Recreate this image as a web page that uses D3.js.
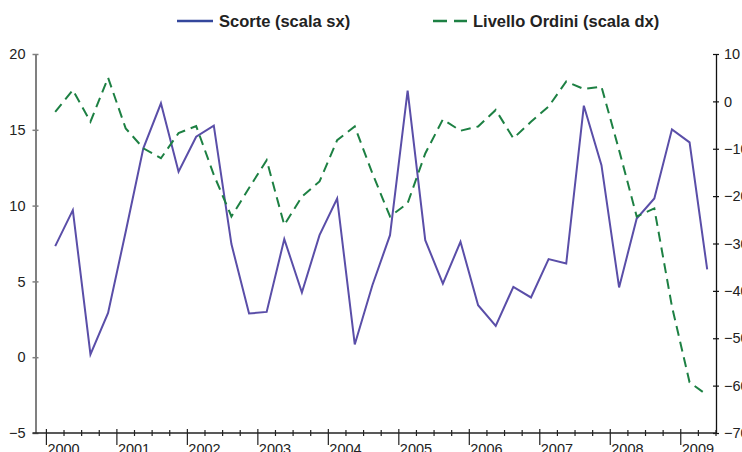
<!DOCTYPE html>
<html><head><meta charset="utf-8">
<script src="https://cdn.jsdelivr.net/npm/d3@7"></script>
<style>
html,body{margin:0;padding:0;background:#fff;}
svg{display:block;}
</style></head>
<body>
<svg id="chart" width="742" height="452"></svg>
<script>
const years = [2000,2001,2002,2003,2004,2005,2006,2007,2008,2009];
const quarters = ["Q1","Q2","Q3","Q4"];
const categories = years.flatMap(y => quarters.map(q => y + q)).slice(0, 38);
const scorte = [7.33, 9.70, 0.18, 2.92, 8.27, 13.78, 16.75, 12.23, 14.54, 15.27, 7.46, 2.88,
  2.99, 7.79, 4.27, 8.05, 10.47, 0.84, 4.75, 8.05, 17.58, 7.72, 4.86, 7.61,
  3.43, 2.07, 4.64, 3.94, 6.47, 6.18, 16.59, 12.67, 4.60, 9.15, 10.47, 15.03, 14.17, 5.79];
const ordini = [-2.2, 2.4, -4.3, 5.0, -5.7, -9.9, -12.0, -6.7, -5.2, -15.5, -24.3, -18.3,
  -12.4, -26.1, -20.1, -16.9, -8.2, -5.3, -15.2, -24.3, -21.5, -11.0, -3.8, -6.2,
  -5.3, -1.8, -7.8, -4.3, -1.1, 4.2, 2.6, 3.1, -10.3, -24.3, -22.6, -43.3, -59.3, -62.0];
const leftTicks = [-5, 0, 5, 10, 15, 20];
const rightTicks = [-70, -60, -50, -40, -30, -20, -10, 0, 10];
const seriesNames = ["Scorte (scala sx)", "Livello Ordini (scala dx)"];

const svg = d3.select("#chart");
const axisLeftX = 35.5, plotRight = 716, bandStart = 46.4, plotTop = 54, plotBottom = 433;
const font = "'Liberation Sans', Arial, sans-serif";

const x = d3.scaleBand().domain(categories).range([bandStart, plotRight]).padding(0);
const yL = d3.scaleLinear().domain([-5, 20]).range([plotBottom, plotTop]);
const yR = d3.scaleLinear().domain([-70, 10]).range([plotBottom, plotTop]);

// Left axis
const gL = svg.append("g").attr("transform", `translate(${axisLeftX},0)`)
  .call(d3.axisLeft(yL).tickValues(leftTicks).tickSizeInner(3).tickSizeOuter(0).tickPadding(7));
gL.select(".domain").attr("stroke", "#808080").attr("stroke-width", 2);
gL.selectAll(".tick line").attr("x1", 3).attr("stroke", "#808080").attr("stroke-width", 1.5);
gL.selectAll(".tick text").attr("font-family", font).attr("font-size", 14.5).attr("fill", "#222");

// Right axis
const gR = svg.append("g").attr("transform", `translate(${plotRight},0)`)
  .call(d3.axisRight(yR).tickValues(rightTicks).tickSizeInner(3).tickSizeOuter(0).tickPadding(5));
gR.select(".domain").attr("stroke", "#111").attr("stroke-width", 1.3);
gR.selectAll(".tick line").attr("x1", -3).attr("stroke", "#111").attr("stroke-width", 1.2);
gR.selectAll(".tick text").attr("font-family", font).attr("font-size", 14.5).attr("fill", "#222");

// Bottom axis
const gB = svg.append("g");
gB.append("line").attr("x1", axisLeftX - 3).attr("x2", plotRight)
  .attr("y1", plotBottom).attr("y2", plotBottom).attr("stroke", "#222").attr("stroke-width", 1.3);
const boundaries = categories.map(c => ({pos: x(c), major: c.endsWith("Q1"), label: c.slice(0, 4)}));
boundaries.push({pos: plotRight, major: false, label: ""});
gB.selectAll("line.tk").data(boundaries).join("line").attr("class", "tk")
  .attr("x1", d => d.pos).attr("x2", d => d.pos)
  .attr("y1", d => d.major ? plotBottom - 4 : plotBottom - 3)
  .attr("y2", d => d.major ? plotBottom + 12 : plotBottom + 3)
  .attr("stroke", "#222").attr("stroke-width", 1.2);
gB.selectAll("text").data(boundaries.filter(d => d.major)).join("text")
  .attr("x", d => d.pos + 1).attr("y", plotBottom + 20.5)
  .attr("font-family", font).attr("font-size", 14.5).attr("fill", "#222")
  .text(d => d.label);

// Lines
const cx = (d, i) => x(categories[i]) + x.bandwidth() / 2;
svg.append("path").datum(scorte)
  .attr("d", d3.line().x(cx).y(d => yL(d)))
  .attr("fill", "none").attr("stroke", "#5a4ea8").attr("stroke-width", 2);
svg.append("path").datum(ordini)
  .attr("d", d3.line().x(cx).y(d => yR(d)))
  .attr("fill", "none").attr("stroke", "#1d8043").attr("stroke-width", 2)
  .attr("stroke-dasharray", "10,6");

// Legend
const legendFont = "'Liberation Sans Narrow', 'Arial Narrow', " + font;
const lg = svg.append("g");
lg.append("line").attr("x1", 177).attr("x2", 213).attr("y1", 21).attr("y2", 21)
  .attr("stroke", "#34479c").attr("stroke-width", 2.5);
lg.append("text").attr("x", 219).attr("y", 27)
  .attr("font-family", legendFont)
  .attr("font-weight", "bold").attr("font-size", 16.5).attr("fill", "#222")
  .text(seriesNames[0]);
lg.append("line").attr("x1", 433).attr("x2", 467).attr("y1", 21).attr("y2", 21)
  .attr("stroke", "#1d8043").attr("stroke-width", 2.5).attr("stroke-dasharray", "14,7");
lg.append("text").attr("x", 473).attr("y", 27)
  .attr("font-family", legendFont)
  .attr("font-weight", "bold").attr("font-size", 16.5).attr("fill", "#222")
  .text(seriesNames[1]);
</script>
</body></html>
